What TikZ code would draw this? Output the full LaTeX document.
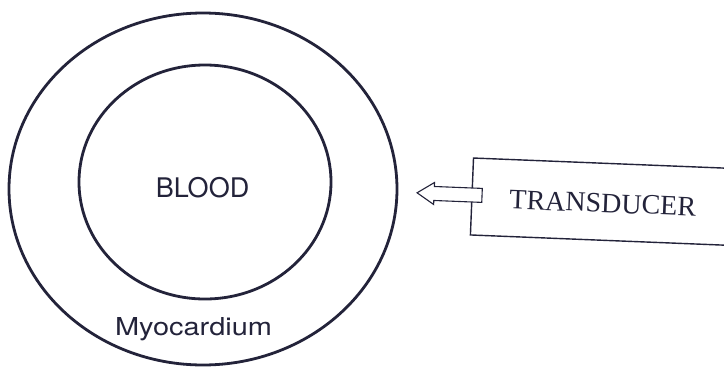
\documentclass[tikz,border=0pt]{standalone}
\usepackage{fontspec}
\setmainfont{Liberation Serif}
\newfontfamily\heros{TeX Gyre Heros}
\definecolor{ink}{HTML}{23233A}
\tikzset{
  wall/.style={draw=ink, line width=2.8pt},
  probe/.style={draw=ink, line width=1.4pt},
  beam/.style={draw=ink, line width=1.1pt, fill=white, line join=miter},
  label/.style={text=ink, inner sep=0pt}
}
\begin{document}
\begin{tikzpicture}[x=1pt, y=-1pt]
  \useasboundingbox (0,0) rectangle (724,378);
  \clip (0,0) rectangle (724,378);
  \fill[white] (0,0) rectangle (724,378);

  % heart wall (myocardium) and blood pool
  \draw[wall] (203,189) ellipse [x radius=194, y radius=176];
  \draw[wall] (205,182) ellipse [x radius=126, y radius=117];
  \node[label, font=\heros\fontsize{27}{27}\selectfont] (blood) at (202.5,187.3) {BLOOD};
  \node[label, anchor=base] (myo) at (193.5,335)
    {\resizebox{157pt}{18pt}{\heros Myocardium}};

  % transducer housing with its outgoing beam
  \begin{scope}[rotate around={-2.3:(472,196)}]
    \coordinate (tl) at (472,158);
    \coordinate (bl) at (472,235);
    \coordinate (tr) at (760,158);
    \coordinate (br) at (760,235);
    \draw[probe] (tr) -- (tl) -- (bl) -- (br);
    \node[label, transform shape, font=\fontsize{28}{28}\selectfont] (tx) at (603,198) {TRANSDUCER};
    \draw[beam] (482,188) -- (434,188) -- (434,184) -- (417,195)
      -- (434,206) -- (434,202) -- (482,202) -- cycle;
  \end{scope}
\end{tikzpicture}
\end{document}
